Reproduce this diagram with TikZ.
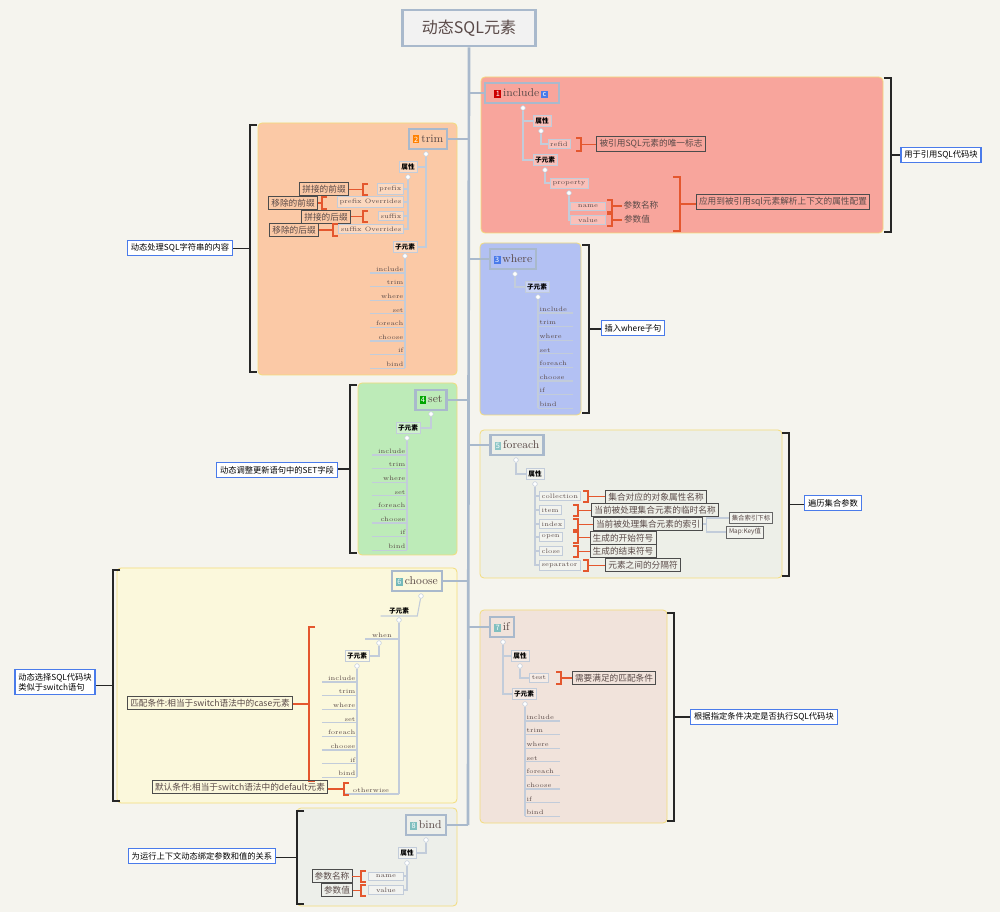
\documentclass[tikz,border=0pt]{standalone}
\usepackage{fontspec}
\newfontfamily\cjk{Noto Sans CJK SC}
\usetikzlibrary{positioning}
\definecolor{cBg}{HTML}{F5F4EE}
\definecolor{cInc}{HTML}{F8A59C}
\definecolor{cTrim}{HTML}{FBC9A6}
\definecolor{cWhere}{HTML}{B3C1F3}
\definecolor{cSet}{HTML}{BDEBB8}
\definecolor{cFor}{HTML}{EDEFE8}
\definecolor{cCho}{HTML}{FBF8DC}
\definecolor{cIf}{HTML}{F1E3DB}
\definecolor{cBind}{HTML}{EDEFEA}
\definecolor{cLine}{HTML}{C2CCDA}
\definecolor{cSpine}{HTML}{A9B9CC}
\definecolor{cBrk}{HTML}{E4572E}
\definecolor{cPanel}{HTML}{F3DC7A}
\definecolor{cLab}{HTML}{4A7BEA}
\definecolor{cTxt}{HTML}{5A4A48}
\newcommand\badge[2]{{\setlength\fboxsep{1pt}\colorbox{#1}{\textcolor{white}{\cjk\fontsize{5.5}{6}\selectfont #2}}}\,}
% bracket: style, x of bar, top, bottom, hook, far end
\newcommand\brk[6]{%
  \draw[#1] (#2+#5,#3) -- (#2,#3) -- (#2,#4) -- (#2+#5,#4);
  \draw[#1] (#2,{(#3+#4)/2}) coordinate (bm) -- (bm -| #6);}
\tikzset{
  panel/.style={rounded corners=3, draw=cPanel, line width=0.6pt},
  topic/.style={draw=cSpine, line width=1.6pt, inner sep=3pt, minimum height=15pt,
    font=\fontsize{8.5}{9}\selectfont, text=cTxt},
  link/.style={draw=cLine, line width=0.8pt},
  knob/.style={circle, draw=cLine, fill=white, inner sep=0pt, minimum size=3.5pt},
  hdr/.style={draw=cLine, fill=white, fill opacity=.3, text opacity=1, inner sep=1.6pt,
    font=\cjk\bfseries\fontsize{5}{6}\selectfont},
  item/.style={draw=cLine, fill=white, fill opacity=.3, text opacity=1, inner sep=1.8pt,
    font=\fontsize{4.8}{6}\selectfont, text=cTxt},
  leafR/.style={anchor=south east, inner sep=1pt, text width=24pt, align=right,
    font=\fontsize{4.8}{6}\selectfont, text=cTxt,
    append after command={(\tikzlastnode.south west) edge[link] (\tikzlastnode.south east)}},
  leafL/.style={leafR, anchor=south west, align=left},
  note/.style={draw=black!70, line width=0.7pt, inner sep=2pt, text=cTxt,
    font=\cjk\fontsize{6.5}{7}\selectfont},
  plain/.style={inner sep=1pt, text=cTxt, font=\cjk\fontsize{6.5}{7}\selectfont},
  side/.style={draw=cLab, fill=white, line width=0.9pt, inner sep=2.5pt, align=left,
    font=\cjk\fontsize{6.2}{7.5}\selectfont},
  obrk/.style={draw=cBrk, line width=0.9pt},
  bbrk/.style={draw=black!85, line width=1.1pt},
  spine/.style={draw=cSpine, line width=2pt}
}
\begin{document}
\begin{tikzpicture}[x=0.75pt, y=-0.75pt]
\fill[cBg] (0,0) rectangle (1000,912);
\useasboundingbox (0,0) rectangle (1000,912);

% panels
\filldraw[panel, fill=cInc] (481,77) rectangle (883,233);
\filldraw[panel, fill=cTrim] (258,123) rectangle (457,375);
\filldraw[panel, fill=cWhere] (480,243) rectangle (581,415);
\filldraw[panel, fill=cSet] (358,383) rectangle (457,555);
\filldraw[panel, fill=cFor] (480,430) rectangle (782,578);
\filldraw[panel, fill=cCho] (117,568) rectangle (457,803);
\filldraw[panel, fill=cIf] (480,610) rectangle (667,823);
\filldraw[panel, fill=cBind] (297,808) rectangle (457,906);

% title and spine
\node[topic, fill=white!95!black, line width=2pt, minimum width=100pt, minimum height=27pt,
  font=\cjk\fontsize{12}{13}\selectfont] (root) at (469,28) {动态SQL元素};
\coordinate (sp) at (468,46);
\draw[spine] (root.south) -- (468,825);

% 1 include
\node[topic, minimum width=56pt] (inc) at (522,93) {\badge{red!75!black!80!red}{1}include\,\badge{cLab}{c}};
\draw[spine] (sp |- inc.west) -- (inc.west);
\node[knob] (incK) at (523,108) {};
\node[hdr] (incA) at (542,121) {属性};
\node[hdr] (incC) at (545,160) {子元素};
\draw[link] (incK) |- (incA.west);
\draw[link] (incK) |- (incC.west);
\node[knob] (incAk) at (541,131) {};
\node[item] (refid) at (559,144) {refid};
\draw[link] (incAk) |- (refid.west);
\node[note] (refidN) at (651,144) {被引用SQL元素的唯一标志};
\brk{obrk}{581}{138}{151}{-5}{refidN.west}
\node[knob] (incCk) at (545,170) {};
\node[item] (prop) at (569,183) {property};
\draw[link] (incCk) |- (prop.west);
\node[knob] (propK) at (569,193) {};
\node[item, minimum width=26pt] (pname) at (588,206) {name};
\node[item, minimum width=26pt] (pval) at (588,220) {value};
\draw[link] (propK) |- (pname.west);
\draw[link] (propK) |- (pval.west);
\node[plain] (pnameN) at (641,205) {参数名称};
\node[plain] (pvalN) at (637,219) {参数值};
\brk{obrk}{612}{200}{212}{-5}{pnameN.west}
\brk{obrk}{612}{214}{226}{-5}{pvalN.west}
\node[note] (propN) at (783,202) {应用到被引用sql元素解析上下文的属性配置};
\brk{obrk}{680}{177}{231}{-7}{propN.west}
\node[side] (incL) at (941,155) {用于引用SQL代码块};
\brk{bbrk}{891}{78}{232}{-7}{incL.west}

% 2 trim
\node[topic] (trm) at (428,139) {\badge{orange}{2}trim};
\draw[spine] (trm.east) -- (sp |- trm.east);
\node[knob] (trmK) at (426,154) {};
\node[hdr] (trmA) at (408,167) {属性};
\node[hdr] (trmC) at (405,247) {子元素};
\draw[link] (trmK) |- (trmA.east);
\draw[link] (trmK) |- (trmC.east);
\node[knob] (trmAk) at (408,177) {};
\node[item, anchor=east] (pre) at (404,189) {prefix};
\node[item, anchor=east] (preO) at (404,202) {prefix Overrides};
\node[item, anchor=east] (suf) at (404,216) {suffix};
\node[item, anchor=east] (sufO) at (404,229) {suffix Overrides};
\foreach \n in {pre,preO,suf,sufO} \draw[link] (trmAk) |- (\n.east);
\node[note] (preN) at (324,189) {拼接的前缀};
\node[note] (preON) at (293,203) {移除的前缀};
\node[note] (sufN) at (326,217) {拼接的后缀};
\node[note] (sufON) at (294,230) {移除的后缀};
\brk{obrk}{363}{184}{195}{5}{preN.east}
\brk{obrk}{322}{197}{209}{5}{preON.east}
\brk{obrk}{363}{211}{222}{5}{sufN.east}
\brk{obrk}{333}{224}{236}{5}{sufON.east}
\node[knob] (trmCk) at (405,256) {};
\foreach \t [count=\i] in {include,trim,where,set,foreach,choose,if,bind}
  \node[leafR] (trL\i) at (405,{259.4+13.6*\i}) {\t};
\draw[link] (trmCk) -- (trL8.south east);
\node[side] (trmL) at (180,248) {动态处理SQL字符串的内容};
\brk{bbrk}{250}{125}{372}{7}{trmL.east}

% 3 where
\node[topic] (whr) at (513,259) {\badge{cLab}{3}where};
\draw[spine] (sp |- whr.west) -- (whr.west);
\node[knob] (whrK) at (515,274) {};
\node[hdr] (whrC) at (537,287) {子元素};
\draw[link] (whrK) |- (whrC.west);
\node[knob] (whrCk) at (538,297) {};
\foreach \t [count=\i] in {include,trim,where,set,foreach,choose,if,bind}
  \node[leafL] (whL\i) at (538,{299.4+13.6*\i}) {\t};
\draw[link] (whrCk) -- (whL8.south west);
\node[side] (whrL) at (633,328) {插入where子句};
\brk{bbrk}{589}{245}{413}{-7}{whrL.west}

% 4 set
\node[topic] (st) at (431,400) {\badge{green!65!black}{4}set};
\draw[spine] (st.east) -- (sp |- st.east);
\node[knob] (stK) at (431,414) {};
\node[hdr] (stC) at (408,428) {子元素};
\draw[link] (stK) |- (stC.east);
\node[knob] (stCk) at (407,438) {};
\foreach \t [count=\i] in {include,trim,where,set,foreach,choose,if,bind}
  \node[leafR] (stL\i) at (407,{441.4+13.6*\i}) {\t};
\draw[link] (stCk) -- (stL8.south east);
\node[side] (stL) at (277,470) {动态调整更新语句中的SET字段};
\brk{bbrk}{350}{385}{553}{7}{stL.east}

% 5 foreach
\node[topic] (fe) at (517,445) {\badge{teal!45}{5}foreach};
\draw[spine] (sp |- fe.west) -- (fe.west);
\node[knob] (feK) at (516,460) {};
\node[hdr] (feA) at (535,474) {属性};
\draw[link] (feK) |- (feA.west);
\node[knob] (feAk) at (535,484) {};
\foreach \t/\y [count=\i] in {collection/496,item/510,index/524,open/537,close/551,separator/565}
  \node[item, anchor=west] (fe\i) at (539,\y) {\t};
\foreach \i in {1,...,6} \draw[link] (feAk) |- (fe\i.west);
\node[note] (feN1) at (656,497) {集合对应的对象属性名称};
\node[note] (feN2) at (655,510) {当前被处理集合元素的临时名称};
\node[note] (feN3) at (648,524) {当前被处理集合元素的索引};
\node[note] (feN4) at (623,538) {生成的开始符号};
\node[note] (feN5) at (623,551) {生成的结束符号};
\node[note] (feN6) at (643,565) {元素之间的分隔符};
\brk{obrk}{588}{491}{502}{-5}{feN1.west}
\brk{obrk}{578}{505}{516}{-5}{feN2.west}
\brk{obrk}{578}{519}{530}{-5}{feN3.west}
\brk{obrk}{578}{532}{543}{-5}{feN4.west}
\brk{obrk}{578}{546}{557}{-5}{feN5.west}
\brk{obrk}{588}{560}{571}{-5}{feN6.west}
\node[item, draw=black!60, font=\cjk\fontsize{4.8}{6}\selectfont] (idxA) at (751,518) {集合索引下标};
\node[item, draw=black!60, font=\cjk\fontsize{4.8}{6}\selectfont] (idxB) at (745,532) {Map:Key值};
\draw[link] (feN3.east) -- ++(3,0) coordinate (ix) |- (idxA.west);
\draw[link] (ix) |- (idxB.west);
\node[side] (feL) at (833,503) {遍历集合参数};
\brk{bbrk}{789}{433}{576}{-7}{feL.west}

% 6 choose
\node[topic] (ch) at (417,581) {\badge{teal!55}{6}choose};
\draw[spine] (ch.east) -- (sp |- ch.east);
\node[knob] (chK) at (421,596) {};
\node[anchor=south, inner sep=1pt, font=\cjk\bfseries\fontsize{5}{6}\selectfont,
  minimum width=27pt] (chC) at (399,616) {子元素};
\draw[link] (chC.south west) -- (chC.south east) -- (chK);
\node[knob] (chCk) at (399,620) {};
\node[anchor=south, inner sep=1pt, font=\fontsize{4.8}{6}\selectfont, text=cTxt,
  minimum width=25pt] (when) at (382,639) {when};
\draw[link] (when.south west) -- (when.south east);
\node[knob] (whenK) at (379,643) {};
\node[hdr] (whenC) at (357,656) {子元素};
\draw[link] (whenK) |- (whenC.east);
\node[knob] (whenCk) at (357,666) {};
\foreach \t [count=\i] in {include,trim,where,set,foreach,choose,if,bind}
  \node[leafR] (chL\i) at (357,{668.4+13.6*\i}) {\t};
\draw[link] (whenCk) -- (chL8.south east);
\node[anchor=south, inner sep=1pt, font=\fontsize{4.8}{6}\selectfont, text=cTxt,
  minimum width=42pt] (oth) at (371,794) {otherwise};
\draw[link] (oth.south west) -- (oth.south east);
\draw[link] (chCk) -- (chCk |- oth.south);
\node[note] (whenN) at (210,703) {匹配条件:相当于switch语法中的case元素};
\brk{obrk}{309}{627}{781}{6}{whenN.east}
\node[note] (othN) at (240,787) {默认条件:相当于switch语法中的default元素};
\brk{obrk}{344}{783}{795}{5}{othN.east}
\node[side] (chL) at (55,682) {动态选择SQL代码块\\类似于switch语句};
\brk{bbrk}{113}{570}{801}{7}{chL.east}

% 7 if
\node[topic] (iff) at (502,627) {\badge{teal!50}{7}if};
\draw[spine] (sp |- iff.west) -- (iff.west);
\node[knob] (ifK) at (503,642) {};
\node[hdr] (ifA) at (520,656) {属性};
\node[hdr] (ifC) at (524,694) {子元素};
\draw[link] (ifK) |- (ifA.west);
\draw[link] (ifK) |- (ifC.west);
\node[knob] (ifAk) at (520,666) {};
\node[item] (test) at (539,678) {test};
\draw[link] (ifAk) |- (test.west);
\node[note] (testN) at (614,678) {需要满足的匹配条件};
\brk{obrk}{561}{672}{684}{-5}{testN.west}
\node[knob] (ifCk) at (525,704) {};
\foreach \t [count=\i] in {include,trim,where,set,foreach,choose,if,bind}
  \node[leafL] (ifL\i) at (525,{707.4+13.6*\i}) {\t};
\draw[link] (ifCk) -- (ifL8.south west);
\node[side] (ifL) at (764,717) {根据指定条件决定是否执行SQL代码块};
\brk{bbrk}{674}{613}{821}{-7}{ifL.west}

% 8 bind
\node[topic] (bd) at (426,825) {\badge{teal!50}{8}bind};
\draw[spine] (bd.east) -- (sp |- bd.east);
\node[knob] (bdK) at (426,840) {};
\node[hdr] (bdA) at (407,853) {属性};
\draw[link] (bdK) |- (bdA.east);
\node[knob] (bdAk) at (407,863) {};
\node[item, minimum width=26pt] (bname) at (386,876) {name};
\node[item, minimum width=26pt] (bval) at (386,890) {value};
\draw[link] (bdAk) |- (bname.east);
\draw[link] (bdAk) |- (bval.east);
\node[note, font=\cjk\itshape\fontsize{6.5}{7}\selectfont] (bnameN) at (332,876) {参数名称};
\node[note, font=\cjk\itshape\fontsize{6.5}{7}\selectfont] (bvalN) at (337,890) {参数值};
\brk{obrk}{361}{871}{882}{5}{bnameN.east}
\brk{obrk}{361}{885}{896}{5}{bvalN.east}
\node[side] (bdL) at (202,856) {为运行上下文动态绑定参数和值的关系};
\brk{bbrk}{297}{811}{904}{7}{bdL.east}
\end{tikzpicture}
\end{document}
